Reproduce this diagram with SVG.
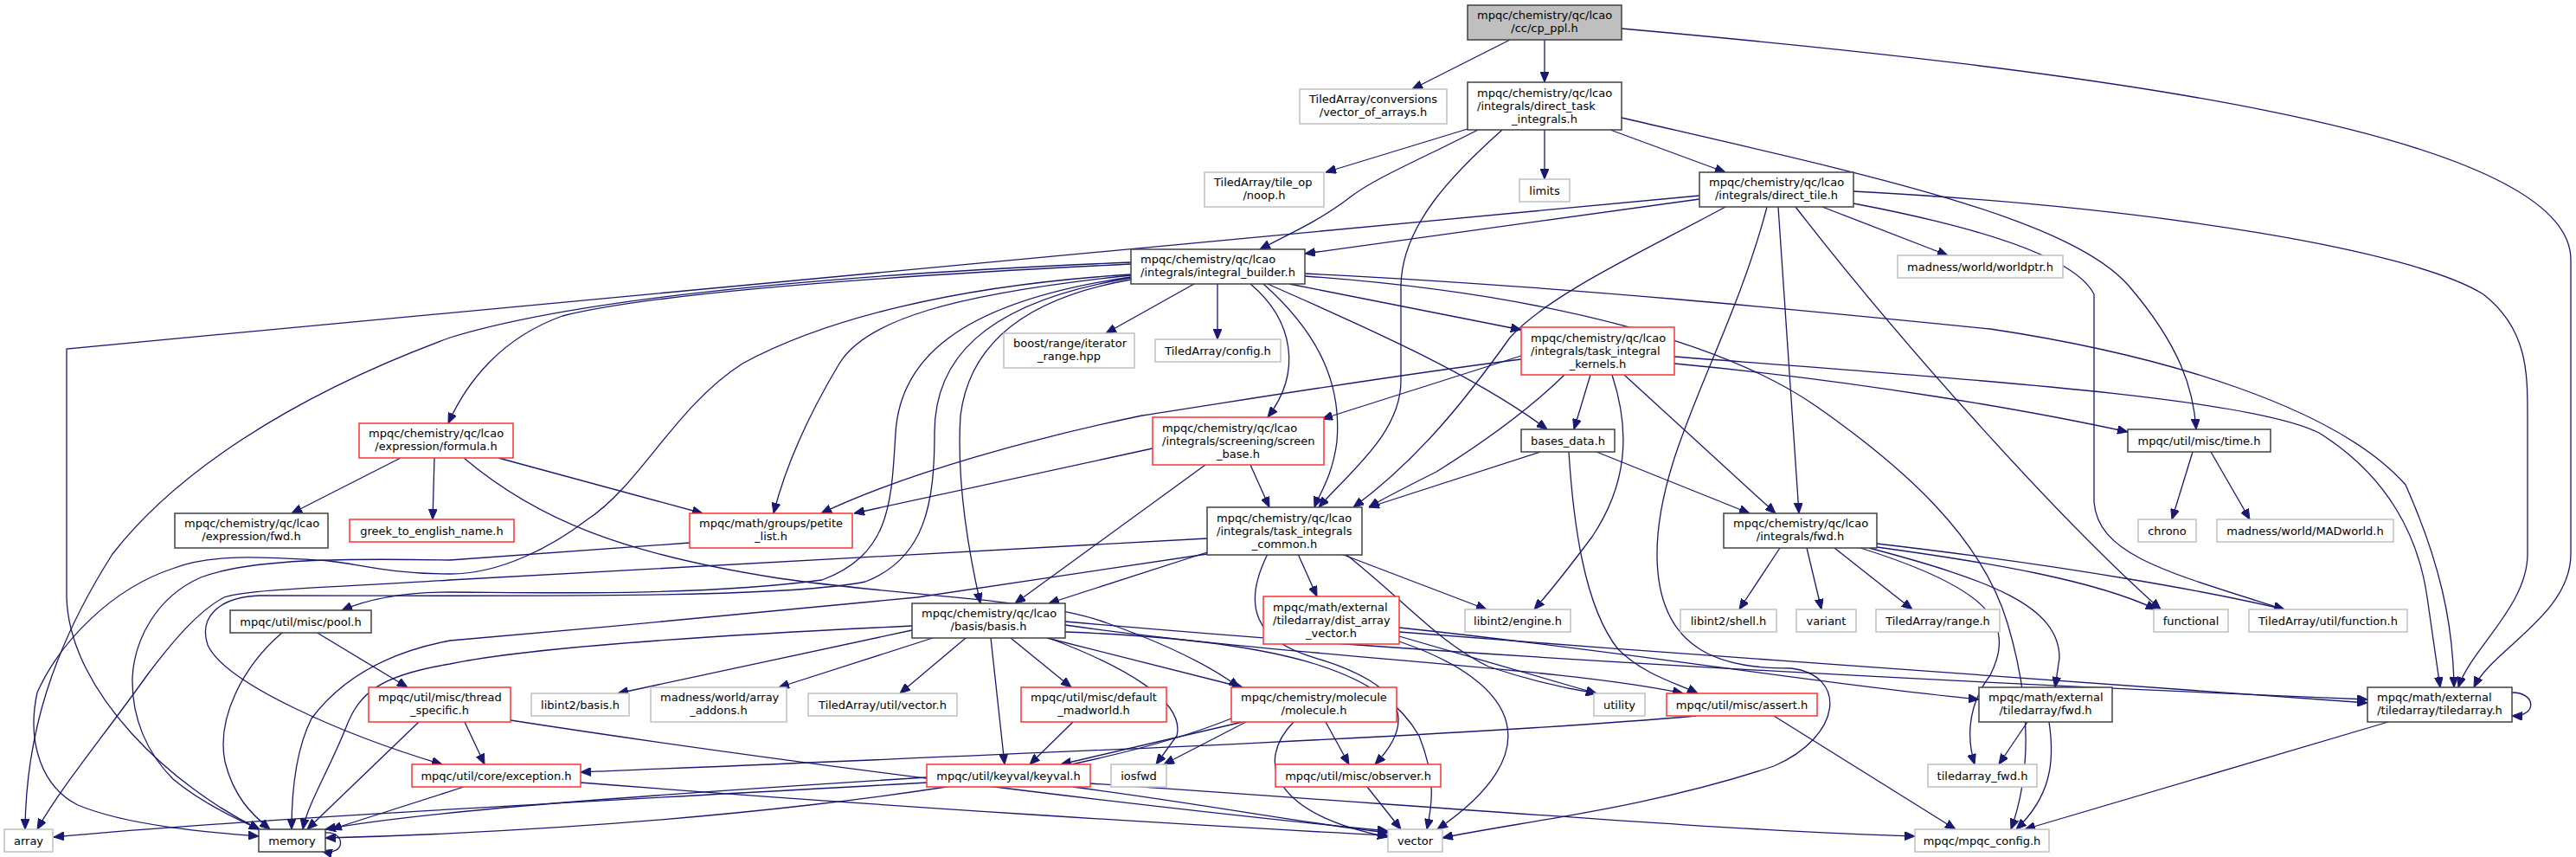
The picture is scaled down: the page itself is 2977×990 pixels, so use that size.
<svg xmlns="http://www.w3.org/2000/svg" width="2977" height="990" viewBox="0 0 2977 990">
<style>
text{font-family:"DejaVu Sans","Liberation Sans",sans-serif;font-size:13px;fill:#000}
.m{text-anchor:middle}
rect{fill:#fff;stroke-width:1.5}
.k rect{stroke:#404040}
.r rect{stroke:#ff3030}
.g rect{stroke:#c0c0c0}
.root rect{fill:#bfbfbf;stroke:#404040}
#edges path{fill:none;stroke:#191970;stroke-width:1.3;marker-end:url(#ah)}
</style>
<defs>
<marker id="ah" markerWidth="12" markerHeight="10" refX="12" refY="5" orient="auto" markerUnits="userSpaceOnUse"><path d="M0,0 L12,5 L0,10 z" fill="#191970" stroke="#191970" stroke-width="1"/></marker>
</defs>
<rect x="0" y="0" width="2977" height="990" style="fill:#fff;stroke:none"/>
<g id="edges">
<path d="M1745,46 L1632,103"/>
<path d="M1785,46 L1785,95"/>
<path d="M1874,33 C2400,80 2971,150 2971,300 L2971,640 C2971,710 2880,750 2859,794"/>
<path d="M1696,149 L1532,199"/>
<path d="M1708,150 C1640,185 1590,205 1560,228 C1525,255 1490,270 1456,288"/>
<path d="M1736,150 C1680,200 1620,260 1619,330 L1619,440 C1619,500 1560,545 1524,586"/>
<path d="M1785,150 L1785,207"/>
<path d="M1861,150 L1994,199"/>
<path d="M1874,136 C2150,200 2390,250 2460,330 C2520,400 2535,450 2538,496"/>
<path d="M1964,230 L1508,293"/>
<path d="M1964,226 L77,403 L77,690 C80,800 200,910 300,958"/>
<path d="M2106,239 L2251,295"/>
<path d="M1994,239 C1900,290 1790,340 1745,390 C1695,460 1640,530 1564,586"/>
<path d="M2055,239 L2079,593"/>
<path d="M2042,239 C2000,400 1915,520 1915,640 C1915,760 2000,772 2070,772 C2135,780 2130,850 2050,885 C1900,935 1750,950 1667,968"/>
<path d="M2142,221 C2500,240 2790,290 2870,340 C2921,380 2921,430 2921,480 L2921,640 C2921,700 2855,750 2841,794"/>
<path d="M2142,235 C2300,265 2400,300 2420,340 L2420,580 C2425,640 2500,660 2640,704"/>
<path d="M2075,239 C2200,400 2380,600 2497,704"/>
<path d="M1380,328 L1278,385"/>
<path d="M1407,328 L1407,392"/>
<path d="M1490,328 L1758,381"/>
<path d="M1465,328 C1560,370 1700,430 1788,496"/>
<path d="M1445,328 C1495,370 1505,430 1465,482"/>
<path d="M1460,328 C1530,390 1550,450 1545,510 C1540,550 1525,570 1519,586"/>
<path d="M1508,316 C1800,330 2100,360 2300,380 C2500,410 2700,470 2780,560 C2820,650 2835,720 2836,794"/>
<path d="M1508,319 C1800,340 2000,400 2100,470 C2200,540 2290,620 2320,720 C2350,820 2345,900 2324,958"/>
<path d="M1307,305 C1000,320 750,340 650,365 C580,390 540,440 518,489"/>
<path d="M1307,303 C900,320 650,350 520,390 C330,460 200,550 130,640 C60,750 30,850 29,958"/>
<path d="M1307,318 C1100,340 1000,370 970,420 C940,470 910,530 894,593"/>
<path d="M1307,323 C1180,345 1120,400 1110,480 C1105,560 1120,640 1133,697"/>
<path d="M1307,320 C1100,350 1040,420 1035,500 C1030,580 1030,640 950,670 C800,690 600,684 520,684 C470,684 430,690 395,705"/>
<path d="M1307,321 C1130,350 1080,420 1080,500 C1080,580 1070,645 1000,672 C900,692 600,688 300,688 C250,690 230,715 240,745 C260,790 400,850 511,883"/>
<path d="M1307,317 C1100,330 950,370 858,420 C780,470 740,560 679,600 C640,630 580,663 520,663 C440,663 400,647 365,647 C300,643 240,640 199,657 C130,680 70,740 43,800 C30,860 50,910 90,930 C150,955 250,962 299,966"/>
<path d="M1758,411 L1528,484"/>
<path d="M1758,415 C1600,435 1450,460 1320,480 C1200,505 1050,545 949,593"/>
<path d="M1808,433 C1760,480 1700,520 1660,545 C1630,560 1600,575 1582,586"/>
<path d="M1838,433 L1819,496"/>
<path d="M1877,433 L2052,593"/>
<path d="M1935,420 C2150,440 2350,475 2459,499"/>
<path d="M1935,412 C2300,440 2600,460 2680,500 C2760,550 2795,620 2805,690 L2820,794"/>
<path d="M1863,433 C1885,500 1880,560 1840,620 C1810,660 1790,685 1773,704"/>
<path d="M1332,518 L987,593"/>
<path d="M1445,537 L1467,586"/>
<path d="M1393,537 L1173,697"/>
<path d="M1780,522 L1582,586"/>
<path d="M1845,522 L2022,593"/>
<path d="M1813,522 C1818,600 1830,700 1870,750 C1900,780 1940,790 1962,801"/>
<path d="M463,529 L337,593"/>
<path d="M502,529 L500,600"/>
<path d="M576,529 L812,593"/>
<path d="M536,529 C620,600 720,640 900,668 C1050,690 1200,690 1280,720 C1350,745 1400,770 1432,794"/>
<path d="M2534,522 L2510,600"/>
<path d="M2555,522 L2600,600"/>
<path d="M797,627 L520,647 C400,645 290,645 232,667 C180,690 155,740 153,783 C152,830 170,870 200,900 C230,925 270,945 300,958"/>
<path d="M1395,622 L520,670 C400,678 290,680 259,690 C230,705 200,740 170,780 C120,850 70,910 43,958"/>
<path d="M1395,640 L1060,690 C900,705 700,725 520,740 C440,755 390,790 360,830 C340,870 337,920 337,958"/>
<path d="M1500,640 L1522,689"/>
<path d="M1550,640 L1718,704"/>
<path d="M1555,640 C1630,700 1660,740 1720,770 C1780,790 1820,797 1845,801"/>
<path d="M1465,640 C1435,700 1450,740 1520,760 C1620,790 1640,830 1589,883"/>
<path d="M1395,638 L1212,697"/>
<path d="M2057,633 L2010,704"/>
<path d="M2088,633 L2105,704"/>
<path d="M2120,633 L2210,704"/>
<path d="M2169,632 C2300,650 2420,670 2492,704"/>
<path d="M2169,628 C2400,655 2560,685 2640,704"/>
<path d="M2160,633 C2300,670 2380,700 2380,760 L2375,794"/>
<path d="M2150,633 C2300,680 2330,720 2300,780 C2270,820 2275,860 2282,883"/>
<path d="M1054,728 L714,801"/>
<path d="M1078,737 L900,794"/>
<path d="M1116,737 L1040,801"/>
<path d="M1145,737 L1161,883"/>
<path d="M1168,737 L1238,794"/>
<path d="M1212,737 C1300,770 1370,810 1360,850 L1336,883"/>
<path d="M1210,737 L1436,794"/>
<path d="M1054,723 C800,735 600,750 520,767 C440,780 415,800 400,840 C380,890 355,930 350,958"/>
<path d="M1231,718 C1700,760 2300,790 2736,808"/>
<path d="M1231,722 C1500,760 1800,770 1945,801"/>
<path d="M1231,730 C1500,740 1600,780 1640,850 C1660,900 1655,930 1649,958"/>
<path d="M1617,741 C1760,790 1790,870 1661,958"/>
<path d="M1617,735 L1845,801"/>
<path d="M1617,725 C1900,755 2100,790 2287,808"/>
<path d="M1617,730 C2000,760 2400,790 2736,812"/>
<path d="M1532,834 L1559,883"/>
<path d="M1495,834 C1450,880 1470,940 1604,967"/>
<path d="M1440,834 L1345,883"/>
<path d="M1436,834 L1226,883"/>
<path d="M1423,830 C1200,920 700,960 376,968"/>
<path d="M1960,827 C1700,850 1200,870 671,892"/>
<path d="M2050,827 L2260,958"/>
<path d="M1580,909 L1619,958"/>
<path d="M1071,904 C700,925 300,945 62,967"/>
<path d="M1071,898 C800,915 500,935 376,958"/>
<path d="M1240,909 C1400,930 1500,950 1604,962"/>
<path d="M1260,905 C1700,935 2000,960 2213,966"/>
<path d="M536,909 L383,958"/>
<path d="M671,904 C1000,930 1400,955 1604,965"/>
<path d="M484,834 L355,958"/>
<path d="M537,834 L560,883"/>
<path d="M590,832 C900,880 1300,930 1604,960"/>
<path d="M327,730 C280,770 250,830 260,880 C270,920 290,940 312,958"/>
<path d="M365,730 L471,794"/>
<path d="M1240,834 L1190,883"/>
<path d="M2343,834 L2310,883"/>
<path d="M2368,834 C2375,880 2370,920 2330,958"/>
<path d="M2760,834 L2340,958"/>
<path d="M2903,800 C2932,800 2932,828 2903,827"/>
<path d="M376,962 C400,960 400,990 372,983"/>
</g>
<g id="n0" class="root"><rect x="1696" y="6" width="178" height="40"/><text x="1707" y="21.5">mpqc/chemistry/qc/lcao</text><text class="m" x="1785" y="36.5">/cc/cp_ppl.h</text></g>
<g id="n1" class="g"><rect x="1502" y="103" width="170" height="40"/><text x="1513" y="118.5">TiledArray/conversions</text><text class="m" x="1587" y="133.5">/vector_of_arrays.h</text></g>
<g id="n2" class="k"><rect x="1696" y="95" width="178" height="55"/><text x="1707" y="111.5">mpqc/chemistry/qc/lcao</text><text x="1707" y="126.5">/integrals/direct_task</text><text class="m" x="1785" y="141.5">_integrals.h</text></g>
<g id="n3" class="g"><rect x="1392" y="199" width="138" height="40"/><text x="1403" y="214.5">TiledArray/tile_op</text><text class="m" x="1461" y="229.5">/noop.h</text></g>
<g id="n4" class="g"><rect x="1756" y="207" width="58" height="26"/><text class="m" x="1785" y="224.5">limits</text></g>
<g id="n5" class="k"><rect x="1964" y="199" width="178" height="40"/><text x="1975" y="214.5">mpqc/chemistry/qc/lcao</text><text class="m" x="2053" y="229.5">/integrals/direct_tile.h</text></g>
<g id="n6" class="k"><rect x="1307" y="288" width="201" height="40"/><text x="1318" y="303.5">mpqc/chemistry/qc/lcao</text><text class="m" x="1407.5" y="318.5">/integrals/integral_builder.h</text></g>
<g id="n7" class="g"><rect x="2193" y="295" width="191" height="26"/><text class="m" x="2288.5" y="312.5">madness/world/worldptr.h</text></g>
<g id="n8" class="g"><rect x="1160" y="385" width="151" height="40"/><text x="1171" y="400.5">boost/range/iterator</text><text class="m" x="1235.5" y="415.5">_range.hpp</text></g>
<g id="n9" class="g"><rect x="1335" y="392" width="145" height="26"/><text class="m" x="1407.5" y="409.5">TiledArray/config.h</text></g>
<g id="n10" class="r"><rect x="1758" y="378" width="177" height="55"/><text x="1769" y="394.5">mpqc/chemistry/qc/lcao</text><text x="1769" y="409.5">/integrals/task_integral</text><text class="m" x="1846.5" y="424.5">_kernels.h</text></g>
<g id="n11" class="r"><rect x="415" y="489" width="178" height="40"/><text x="426" y="504.5">mpqc/chemistry/qc/lcao</text><text class="m" x="504" y="519.5">/expression/formula.h</text></g>
<g id="n12" class="r"><rect x="1332" y="482" width="198" height="55"/><text x="1343" y="498.5">mpqc/chemistry/qc/lcao</text><text x="1343" y="513.5">/integrals/screening/screen</text><text class="m" x="1431" y="528.5">_base.h</text></g>
<g id="n13" class="k"><rect x="1758" y="496" width="108" height="26"/><text class="m" x="1812" y="513.5">bases_data.h</text></g>
<g id="n14" class="k"><rect x="2459" y="496" width="165" height="26"/><text class="m" x="2541.5" y="513.5">mpqc/util/misc/time.h</text></g>
<g id="n15" class="k"><rect x="202" y="593" width="177" height="40"/><text x="213" y="608.5">mpqc/chemistry/qc/lcao</text><text class="m" x="290.5" y="623.5">/expression/fwd.h</text></g>
<g id="n16" class="r"><rect x="404" y="600" width="190" height="26"/><text class="m" x="499" y="617.5">greek_to_english_name.h</text></g>
<g id="n17" class="r"><rect x="797" y="593" width="188" height="40"/><text x="808" y="608.5">mpqc/math/groups/petite</text><text class="m" x="891" y="623.5">_list.h</text></g>
<g id="n18" class="k"><rect x="1395" y="586" width="179" height="55"/><text x="1406" y="602.5">mpqc/chemistry/qc/lcao</text><text x="1406" y="617.5">/integrals/task_integrals</text><text class="m" x="1484.5" y="632.5">_common.h</text></g>
<g id="n19" class="k"><rect x="1992" y="593" width="177" height="40"/><text x="2003" y="608.5">mpqc/chemistry/qc/lcao</text><text class="m" x="2080.5" y="623.5">/integrals/fwd.h</text></g>
<g id="n20" class="g"><rect x="2471" y="600" width="67" height="26"/><text class="m" x="2504.5" y="617.5">chrono</text></g>
<g id="n21" class="g"><rect x="2562" y="600" width="204" height="26"/><text class="m" x="2664" y="617.5">madness/world/MADworld.h</text></g>
<g id="n22" class="k"><rect x="266" y="705" width="163" height="26"/><text class="m" x="347.5" y="722.5">mpqc/util/misc/pool.h</text></g>
<g id="n23" class="k"><rect x="1054" y="697" width="177" height="40"/><text x="1065" y="712.5">mpqc/chemistry/qc/lcao</text><text class="m" x="1142.5" y="727.5">/basis/basis.h</text></g>
<g id="n24" class="r"><rect x="1460" y="689" width="157" height="55"/><text x="1471" y="705.5">mpqc/math/external</text><text x="1471" y="720.5">/tiledarray/dist_array</text><text class="m" x="1538.5" y="735.5">_vector.h</text></g>
<g id="n25" class="g"><rect x="1693" y="704" width="122" height="26"/><text class="m" x="1754" y="721.5">libint2/engine.h</text></g>
<g id="n26" class="g"><rect x="1942" y="704" width="111" height="26"/><text class="m" x="1997.5" y="721.5">libint2/shell.h</text></g>
<g id="n27" class="g"><rect x="2076" y="704" width="69" height="26"/><text class="m" x="2110.5" y="721.5">variant</text></g>
<g id="n28" class="g"><rect x="2168" y="704" width="143" height="26"/><text class="m" x="2239.5" y="721.5">TiledArray/range.h</text></g>
<g id="n29" class="g"><rect x="2489" y="704" width="86" height="26"/><text class="m" x="2532" y="721.5">functional</text></g>
<g id="n30" class="g"><rect x="2599" y="704" width="183" height="26"/><text class="m" x="2690.5" y="721.5">TiledArray/util/function.h</text></g>
<g id="n31" class="r"><rect x="426" y="794" width="164" height="40"/><text x="437" y="809.5">mpqc/util/misc/thread</text><text class="m" x="508" y="824.5">_specific.h</text></g>
<g id="n32" class="g"><rect x="614" y="801" width="113" height="26"/><text class="m" x="670.5" y="818.5">libint2/basis.h</text></g>
<g id="n33" class="g"><rect x="752" y="794" width="157" height="40"/><text x="763" y="809.5">madness/world/array</text><text class="m" x="830.5" y="824.5">_addons.h</text></g>
<g id="n34" class="g"><rect x="934" y="801" width="172" height="26"/><text class="m" x="1020" y="818.5">TiledArray/util/vector.h</text></g>
<g id="n35" class="r"><rect x="1180" y="794" width="168" height="40"/><text x="1191" y="809.5">mpqc/util/misc/default</text><text class="m" x="1264" y="824.5">_madworld.h</text></g>
<g id="n36" class="r"><rect x="1423" y="794" width="191" height="40"/><text x="1434" y="809.5">mpqc/chemistry/molecule</text><text class="m" x="1518.5" y="824.5">/molecule.h</text></g>
<g id="n37" class="g"><rect x="1842" y="801" width="59" height="26"/><text class="m" x="1871.5" y="818.5">utility</text></g>
<g id="n38" class="r"><rect x="1926" y="801" width="174" height="26"/><text class="m" x="2013" y="818.5">mpqc/util/misc/assert.h</text></g>
<g id="n39" class="k"><rect x="2287" y="794" width="154" height="40"/><text x="2298" y="809.5">mpqc/math/external</text><text class="m" x="2364" y="824.5">/tiledarray/fwd.h</text></g>
<g id="n40" class="k"><rect x="2736" y="794" width="167" height="40"/><text x="2747" y="809.5">mpqc/math/external</text><text class="m" x="2819.5" y="824.5">/tiledarray/tiledarray.h</text></g>
<g id="n41" class="r"><rect x="476" y="883" width="195" height="26"/><text class="m" x="573.5" y="900.5">mpqc/util/core/exception.h</text></g>
<g id="n42" class="r"><rect x="1071" y="883" width="189" height="26"/><text class="m" x="1165.5" y="900.5">mpqc/util/keyval/keyval.h</text></g>
<g id="n43" class="g"><rect x="1284" y="883" width="64" height="26"/><text class="m" x="1316" y="900.5">iosfwd</text></g>
<g id="n44" class="r"><rect x="1474" y="883" width="191" height="26"/><text class="m" x="1569.5" y="900.5">mpqc/util/misc/observer.h</text></g>
<g id="n45" class="g"><rect x="2228" y="883" width="126" height="26"/><text class="m" x="2291" y="900.5">tiledarray_fwd.h</text></g>
<g id="n46" class="g"><rect x="5" y="958" width="56" height="26"/><text class="m" x="33" y="975.5">array</text></g>
<g id="n47" class="k"><rect x="299" y="958" width="77" height="26"/><text class="m" x="337.5" y="975.5">memory</text></g>
<g id="n48" class="g"><rect x="1604" y="958" width="63" height="26"/><text class="m" x="1635.5" y="975.5">vector</text></g>
<g id="n49" class="g"><rect x="2213" y="958" width="155" height="26"/><text class="m" x="2290.5" y="975.5">mpqc/mpqc_config.h</text></g>
</svg>
